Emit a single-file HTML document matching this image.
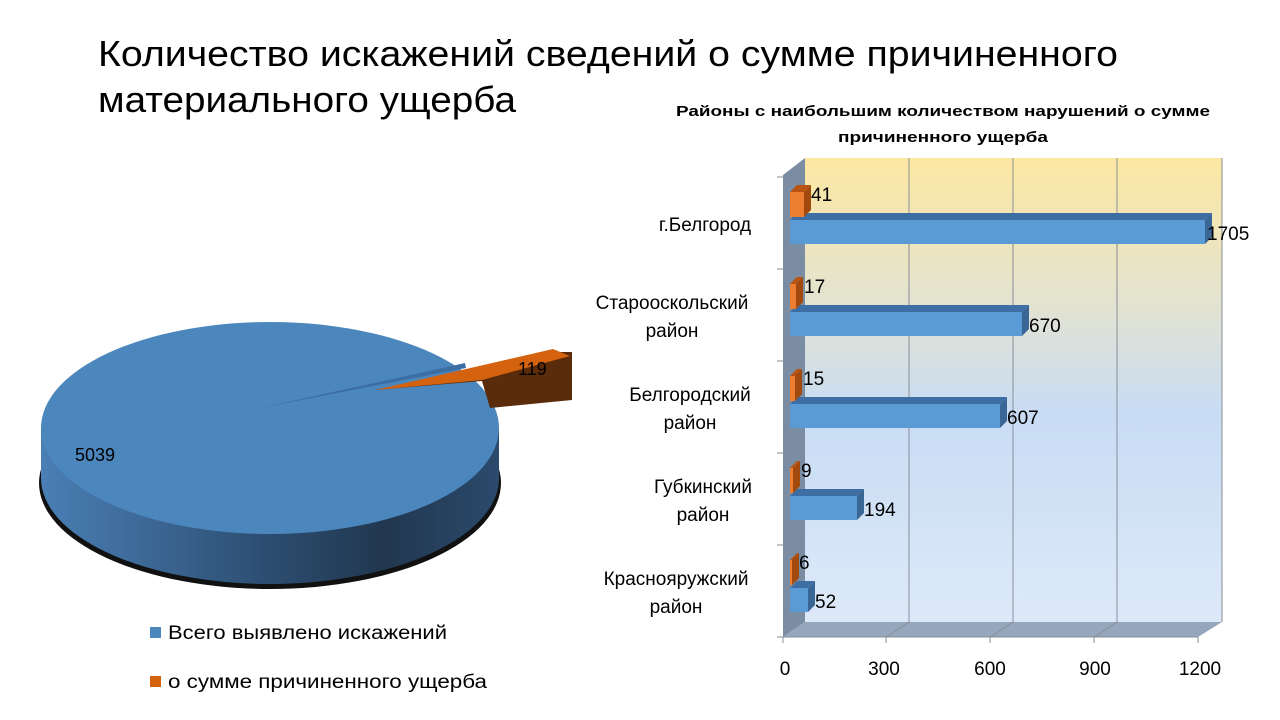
<!DOCTYPE html>
<html><head><meta charset="utf-8"><style>
body{margin:0;background:#fff;}
svg{display:block;font-family:"Liberation Sans",Calibri,sans-serif;}
</style></head><body>
<svg width="1280" height="720" viewBox="0 0 1280 720" xmlns="http://www.w3.org/2000/svg">
<defs>
<linearGradient id="wall" x1="0" y1="0" x2="0" y2="1">
<stop offset="0" stop-color="#fde8a2"/><stop offset="0.35" stop-color="#dfe2d6"/><stop offset="0.55" stop-color="#c8dcf4"/><stop offset="1" stop-color="#dde9f9"/>
</linearGradient>
<linearGradient id="side" x1="0" y1="0" x2="1" y2="0">
<stop offset="0" stop-color="#4a7fb5"/><stop offset="0.5" stop-color="#2c4d70"/><stop offset="0.75" stop-color="#21374f"/><stop offset="1" stop-color="#2b4a6c"/>
</linearGradient>
</defs>
<text x="98" y="66" font-size="36" fill="#000" textLength="1020" lengthAdjust="spacingAndGlyphs">Количество искажений сведений о сумме причиненного</text>
<text x="98" y="112" font-size="36" fill="#000" textLength="418" lengthAdjust="spacingAndGlyphs">материального ущерба</text>

<!-- Pie -->
<ellipse cx="270" cy="483" rx="231" ry="106" fill="#111"/>
<path d="M41,428 L41,478 A229,106 0 0 0 499,478 L499,428 Z" fill="url(#side)"/>
<ellipse cx="270" cy="428" rx="229" ry="106" fill="#4b86bd"/>
<polygon points="260,408 465,363 466,368" fill="#3b6fa3"/>
<polygon points="375,390 553,352 572,352 572,400 490,408 482,381" fill="#5a2c0c"/>
<polygon points="375,390 553,349 570,356 482,380" fill="#d5620f"/>
<text x="518" y="375" font-size="18">119</text>
<text x="75" y="461" font-size="18">5039</text>

<rect x="150" y="627" width="11" height="11" fill="#4b86bd"/>
<text x="168" y="639" font-size="19" textLength="279" lengthAdjust="spacingAndGlyphs">Всего выявлено искажений</text>
<rect x="150" y="676" width="11" height="11" fill="#d5620f"/>
<text x="168" y="688" font-size="19" textLength="319" lengthAdjust="spacingAndGlyphs">о сумме причиненного ущерба</text>

<!-- Bar chart -->
<text x="676" y="116" font-size="15" font-weight="bold" textLength="534" lengthAdjust="spacingAndGlyphs">Районы с наибольшим количеством нарушений  о сумме</text>
<text x="838" y="142" font-size="15" font-weight="bold" textLength="210" lengthAdjust="spacingAndGlyphs">причиненного  ущерба</text>
<rect x="805" y="158" width="417" height="464" fill="url(#wall)"/>
<g stroke="#8a8f96" stroke-width="1">
<line x1="909" y1="158" x2="909" y2="622"/><line x1="1013" y1="158" x2="1013" y2="622"/><line x1="1117" y1="158" x2="1117" y2="622"/><line x1="1222" y1="158" x2="1222" y2="622"/>
</g>
<polygon points="783,175 805,158 805,622 783,637" fill="#7b8da3"/>
<polygon points="783,637 805,622 1222,622 1198,637" fill="#95a7bd"/>
<g stroke="#8a8f96" stroke-width="1">
<line x1="886" y1="637" x2="909" y2="622"/><line x1="990" y1="637" x2="1013" y2="622"/><line x1="1094" y1="637" x2="1117" y2="622"/>
<line x1="783" y1="637" x2="1198" y2="637"/>
<line x1="777" y1="177" x2="783" y2="177"/><line x1="777" y1="269" x2="783" y2="269"/><line x1="777" y1="361" x2="783" y2="361"/><line x1="777" y1="453" x2="783" y2="453"/><line x1="777" y1="545" x2="783" y2="545"/><line x1="777" y1="637" x2="783" y2="637"/>
<line x1="783" y1="637" x2="783" y2="643"/><line x1="886" y1="637" x2="886" y2="643"/><line x1="990" y1="637" x2="990" y2="643"/><line x1="1094" y1="637" x2="1094" y2="643"/><line x1="1198" y1="637" x2="1198" y2="643"/>
</g>
<g font-size="19" text-anchor="middle">
<text x="785" y="675">0</text><text x="884" y="675">300</text><text x="990" y="675">600</text><text x="1095" y="675">900</text><text x="1200" y="675">1200</text>
</g>
<g font-size="19" text-anchor="middle">
<text x="705" y="231">г.Белгород</text>
<text x="672" y="309">Старооскольский</text><text x="672" y="337">район</text>
<text x="690" y="401">Белгородский</text><text x="690" y="429">район</text>
<text x="703" y="493">Губкинский</text><text x="703" y="521">район</text>
<text x="676" y="585">Краснояружский</text><text x="676" y="613">район</text>
</g>
<g>
<polygon points="790,220 797,213 1212,213 1205,220" fill="#3d6fa5"/><polygon points="1205,220 1212,213 1212,237 1205,244" fill="#3a6696"/><rect x="790" y="220" width="415" height="24" fill="#5b9bd5"/>
<polygon points="790,312 797,305 1029,305 1022,312" fill="#3d6fa5"/><polygon points="1022,312 1029,305 1029,329 1022,336" fill="#3a6696"/><rect x="790" y="312" width="232" height="24" fill="#5b9bd5"/>
<polygon points="790,404 797,397 1007,397 1000,404" fill="#3d6fa5"/><polygon points="1000,404 1007,397 1007,421 1000,428" fill="#3a6696"/><rect x="790" y="404" width="210" height="24" fill="#5b9bd5"/>
<polygon points="790,496 797,489 864,489 857,496" fill="#3d6fa5"/><polygon points="857,496 864,489 864,513 857,520" fill="#3a6696"/><rect x="790" y="496" width="67" height="24" fill="#5b9bd5"/>
<polygon points="790,588 797,581 815,581 808,588" fill="#3d6fa5"/><polygon points="808,588 815,581 815,605 808,612" fill="#3a6696"/><rect x="790" y="588" width="18" height="24" fill="#5b9bd5"/>
</g>
<g>
<polygon points="790,192 797,185 811,185 804,192" fill="#b8540f"/><polygon points="804,192 811,185 811,210 804,217" fill="#a24a0d"/><rect x="790" y="192" width="14" height="25" fill="#ed7d31"/>
<polygon points="790,284 797,277 803,277 796,284" fill="#b8540f"/><polygon points="796,284 803,277 803,302 796,309" fill="#a24a0d"/><rect x="790" y="284" width="6" height="25" fill="#ed7d31"/>
<polygon points="790,376 797,369 802,369 795,376" fill="#b8540f"/><polygon points="795,376 802,369 802,394 795,401" fill="#a24a0d"/><rect x="790" y="376" width="5" height="25" fill="#ed7d31"/>
<polygon points="790,468 797,461 800,461 793,468" fill="#b8540f"/><polygon points="793,468 800,461 800,486 793,493" fill="#a24a0d"/><rect x="790" y="468" width="3" height="25" fill="#ed7d31"/>
<polygon points="790,560 797,553 799,553 792,560" fill="#b8540f"/><polygon points="792,560 799,553 799,578 792,585" fill="#a24a0d"/><rect x="790" y="560" width="2" height="25" fill="#ed7d31"/>
</g>
<g font-size="19">
<text x="811" y="201">41</text><text x="1207" y="240">1705</text>
<text x="804" y="293">17</text><text x="1029" y="332">670</text>
<text x="803" y="385">15</text><text x="1007" y="424">607</text>
<text x="801" y="477">9</text><text x="864" y="516">194</text>
<text x="799" y="569">6</text><text x="815" y="608">52</text>
</g>
</svg>
</body></html>
